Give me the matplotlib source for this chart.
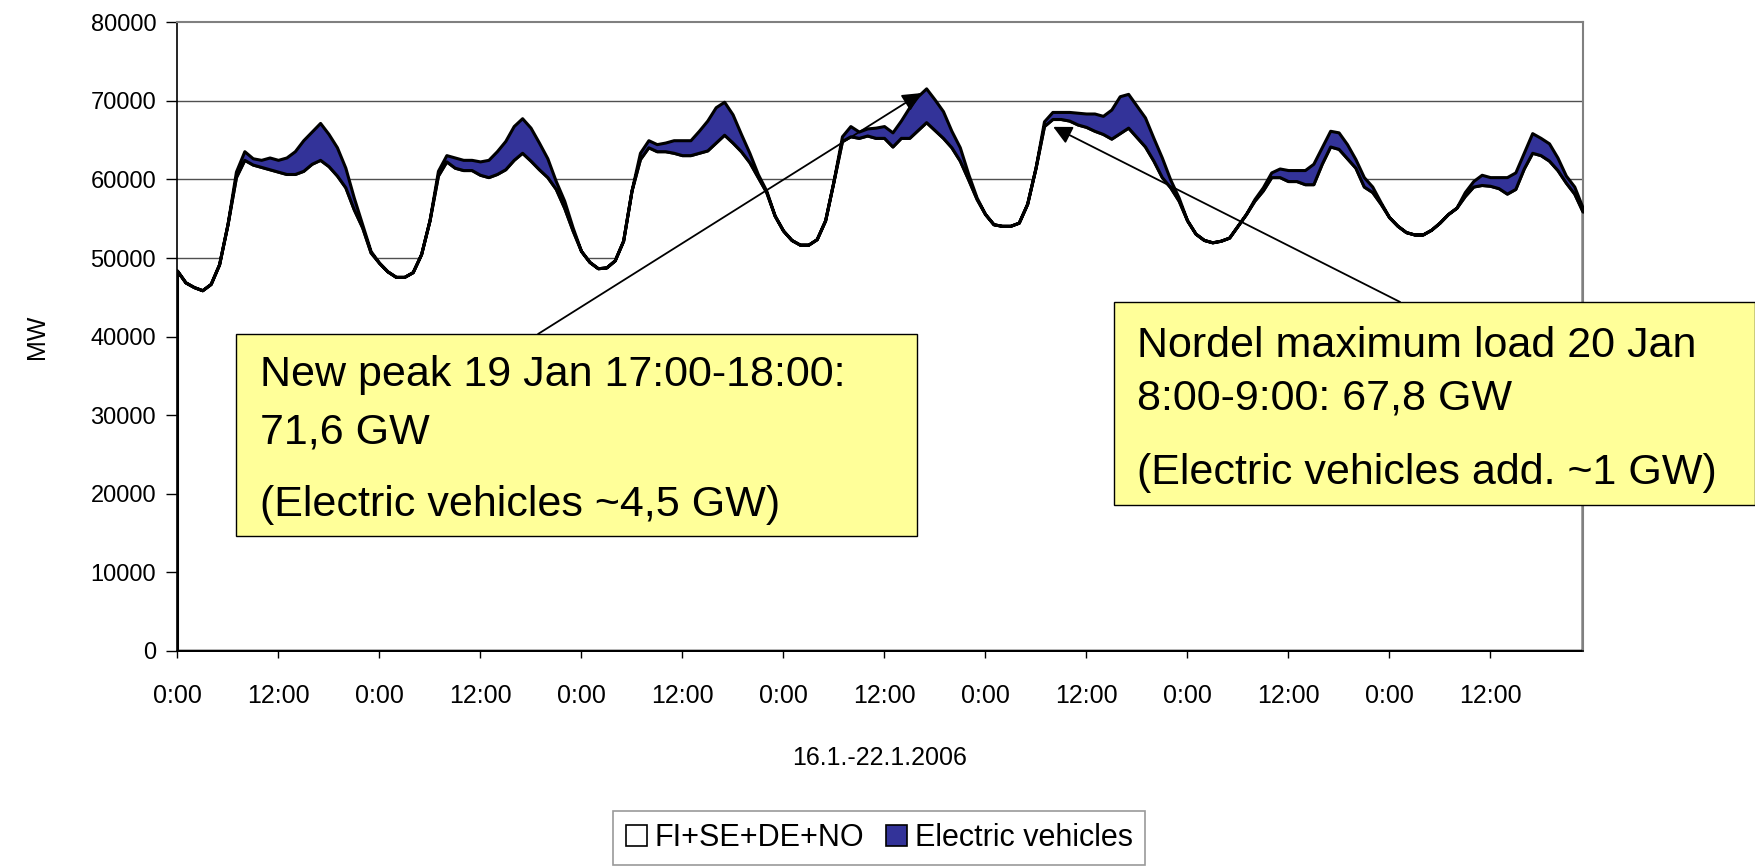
import numpy as np
import matplotlib.pyplot as plt
from matplotlib.patches import Patch, Rectangle

plt.rcParams['font.family'] = ['Liberation Sans', 'DejaVu Sans']

# hourly load 16.1.-22.1.2006, MW (168 hours)
base_load = [
    48400, 46900, 46300, 45900, 46700, 49200, 54300, 60300, 62500, 61900,
    61600, 61300, 61000, 60700, 60700, 61100, 62000, 62500, 61700, 60500,
    59000, 56200, 53900, 50700, 49400, 48300, 47600, 47600, 48200, 50500,
    54800, 60500, 62300, 61500, 61200, 61200, 60600, 60300, 60700, 61300,
    62500, 63400, 62400, 61300, 60300, 58800, 56400, 53500, 50900, 49500,
    48700, 48800, 49700, 52200, 58600, 62600, 64100, 63600, 63600, 63400,
    63100, 63100, 63400, 63700, 64700, 65700, 64700, 63600, 62200, 60300,
    58400, 55400, 53500, 52300, 51700, 51700, 52400, 54800, 59800, 64900,
    65500, 65300, 65600, 65300, 65300, 64200, 65300, 65300, 66300, 67300,
    66300, 65300, 64100, 62400, 60000, 57500, 55600, 54300, 54100, 54100,
    54500, 56900, 61500, 66800, 67700, 67700, 67500, 67000, 66700, 66200,
    65800, 65200, 65900, 66600, 65400, 64200, 62400, 60300, 59000, 57300,
    54800, 53100, 52300, 52000, 52200, 52600, 54100, 55600, 57300, 58600,
    60300, 60300, 59800, 59800, 59400, 59400, 62000, 64200, 63900, 62700,
    61500, 59100, 58400, 56900, 55200, 54100, 53300, 53000, 53000, 53600,
    54500, 55600, 56400, 57900, 59100, 59300, 59200, 58900, 58200, 58800,
    61400, 63400, 63100, 62400, 61200, 59600, 58200, 55900,
]

total_load = [
    48400, 46900, 46300, 45900, 46700, 49200, 54300, 61000, 63600, 62700,
    62500, 62800, 62500, 62800, 63600, 65000, 66100, 67200, 65800, 64100,
    61500, 57700, 54300, 50900, 49400, 48300, 47600, 47600, 48200, 50500,
    54800, 61100, 63100, 62800, 62500, 62500, 62300, 62500, 63600, 64900,
    66800, 67800, 66600, 64700, 62700, 59800, 57300, 53900, 50900, 49500,
    48700, 48800, 49700, 52200, 58600, 63400, 65000, 64500, 64700, 65000,
    65000, 65000, 66200, 67500, 69200, 69900, 68300, 65800, 63400, 60700,
    58600, 55400, 53500, 52300, 51700, 51700, 52400, 54800, 59800, 65500,
    66800, 66100, 66500, 66600, 66800, 66000, 67500, 69200, 70600, 71600,
    70200, 68700, 66200, 64100, 60700, 57700, 55600, 54300, 54100, 54100,
    54500, 56900, 61500, 67400, 68600, 68600, 68600, 68500, 68400, 68400,
    68100, 68900, 70600, 70900, 69400, 67900, 65300, 62800, 60000, 57700,
    54800, 53100, 52300, 52000, 52200, 52600, 54100, 55600, 57500, 59000,
    60900, 61400, 61200, 61200, 61200, 62000, 64100, 66200, 66000, 64500,
    62600, 60300, 59100, 57100, 55200, 54100, 53300, 53000, 53000, 53600,
    54500, 55600, 56400, 58400, 59800, 60600, 60300, 60300, 60300, 60900,
    63400, 65900, 65300, 64600, 62800, 60500, 59100, 56400,
]

tick_hours = list(range(0, 168, 12))
tick_labels = ["0:00", "12:00"] * 7
y_ticks = list(range(0, 80001, 10000))

PEAK_H = 89       # 19 Jan 17:00
NORDEL_H = 104    # 20 Jan 8:00

EV_BLUE = "#333399"
NOTE_YELLOW = "#FFFF99"


def main():
    hours = np.arange(len(base_load))
    base = np.array(base_load)
    total = np.array(total_load)

    fig = plt.figure(figsize=(17.56, 8.68), dpi=100)
    ax = fig.add_axes([0.1008, 0.2503, 0.8005, 0.7239])

    for v in y_ticks[1:-1]:
        ax.axhline(v, color="#505050", lw=1.0, zorder=1)

    ax.fill_between(hours, 0, base, facecolor="white", edgecolor="black",
                    lw=2.2, zorder=2)
    ax.fill_between(hours, base, total, facecolor=EV_BLUE, edgecolor="black",
                    lw=2.2, zorder=3)

    ax.set_xlim(hours[0], hours[-1])
    ax.set_ylim(0, 80000)
    ax.set_yticks(y_ticks)
    ax.set_xticks(tick_hours)
    ax.set_xticklabels(tick_labels)
    ax.tick_params(axis="y", direction="out", length=8, width=1, pad=7,
                   labelsize=17)
    ax.tick_params(axis="x", direction="out", length=5, width=1, pad=19,
                   labelsize=18)
    for side in ("top", "right"):
        ax.spines[side].set_color("#808080")
        ax.spines[side].set_linewidth(1.5)
    for side in ("left", "bottom"):
        ax.spines[side].set_color("black")
        ax.spines[side].set_linewidth(1.2)

    ax.set_xlabel("16.1.-22.1.2006", fontsize=18, labelpad=27)
    ax.set_ylabel("MW", fontsize=18, labelpad=30)

    # arrows to the peaks
    arrow = dict(arrowstyle="-|>", color="black", lw=1.3, mutation_scale=28,
                 shrinkA=0, shrinkB=0)
    ax.annotate("", xy=(PEAK_H - 0.6, total[PEAK_H] - 600),
                xytext=(0.3064, 0.6152), textcoords="figure fraction",
                arrowprops=arrow, annotation_clip=False, zorder=6)
    ax.annotate("", xy=(NORDEL_H + 0.1, base[NORDEL_H] - 1000),
                xytext=(0.7973, 0.6521), textcoords="figure fraction",
                arrowprops=arrow, annotation_clip=False, zorder=6)

    # note boxes
    fig.patches.append(Rectangle((0.1344, 0.3825), 0.3878, 0.2327,
                                 transform=fig.transFigure, facecolor=NOTE_YELLOW,
                                 edgecolor="black", lw=1.0, zorder=5))
    fig.patches.append(Rectangle((0.6344, 0.4182), 0.3650, 0.2339,
                                 transform=fig.transFigure, facecolor=NOTE_YELLOW,
                                 edgecolor="black", lw=1.0, zorder=5))
    note_size = 31
    for y, s in [(0.5683, "New peak 19 Jan 17:00-18:00:"),
                 (0.5018, "71,6 GW"),
                 (0.4185, "(Electric vehicles ~4,5 GW)")]:
        fig.text(0.148, y, s, fontsize=note_size, va="center", zorder=6)
    for y, s in [(0.6018, "Nordel maximum load 20 Jan"),
                 (0.5408, "8:00-9:00: 67,8 GW"),
                 (0.4555, "(Electric vehicles add. ~1 GW)")]:
        fig.text(0.6475, y, s, fontsize=note_size, va="center", zorder=6)

    handles = [Patch(facecolor="white", edgecolor="black", lw=1.2),
               Patch(facecolor=EV_BLUE, edgecolor="black", lw=1.2)]
    leg = fig.legend(handles, ["FI+SE+DE+NO", "Electric vehicles"],
                     loc="lower center", bbox_to_anchor=(0.5006, 0.003), ncol=2,
                     fontsize=22, frameon=True, fancybox=False,
                     borderaxespad=0, handlelength=0.7, handleheight=0.7,
                     handletextpad=0.25, columnspacing=0.7, borderpad=0.4)
    leg.get_frame().set_edgecolor("#808080")
    leg.get_frame().set_linewidth(1.2)

    fig.savefig("out.png", dpi=100)


if __name__ == "__main__":
    main()
